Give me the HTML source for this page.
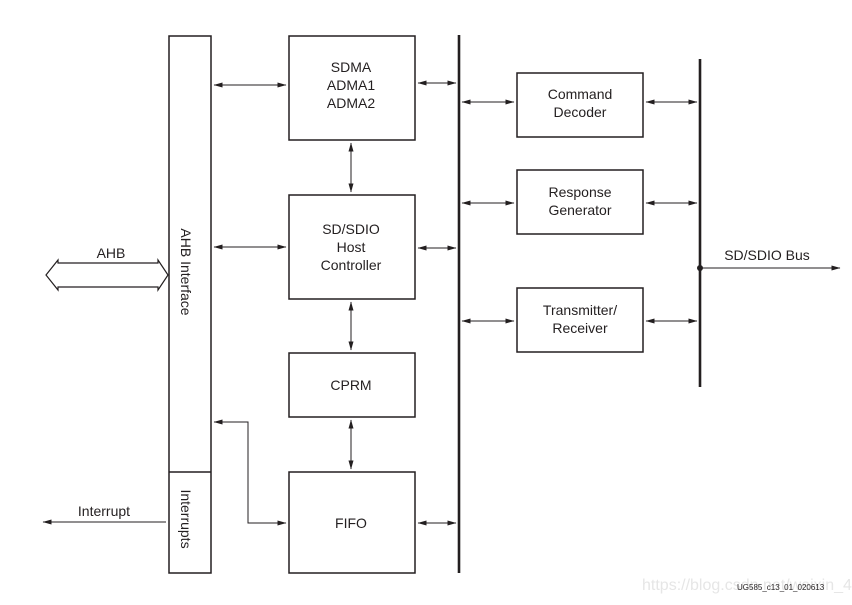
<!DOCTYPE html>
<html><head><meta charset="utf-8"><style>
html,body{margin:0;padding:0;background:#fff;}
svg{display:block;}
text{font-family:"Liberation Sans",Arial,sans-serif;fill:#231f20;}
</style></head><body>
<svg width="852" height="605" viewBox="0 0 852 605" xmlns="http://www.w3.org/2000/svg">
<defs>
<marker id="a" markerWidth="9" markerHeight="6" refX="8.5" refY="3" orient="auto-start-reverse" markerUnits="userSpaceOnUse">
<path d="M0,0.5 L9,3 L0,5.5 Z" fill="#231f20"/>
</marker>
</defs>
<g fill="none" stroke="#231f20" stroke-width="1.5">
<rect x="169" y="36" width="42" height="537"/>
<line x1="169" y1="472" x2="211" y2="472"/>
<rect x="289" y="36" width="126" height="104"/>
<rect x="289" y="195" width="126" height="104"/>
<rect x="289" y="353" width="126" height="64"/>
<rect x="289" y="472" width="126" height="101"/>
<rect x="517" y="73" width="126" height="64"/>
<rect x="517" y="170" width="126" height="64"/>
<rect x="517" y="288" width="126" height="64"/>
</g>
<line x1="459" y1="35" x2="459" y2="573" stroke="#231f20" stroke-width="2.6"/>
<line x1="700" y1="59" x2="700" y2="387" stroke="#231f20" stroke-width="2.6"/>
<circle cx="700" cy="268" r="3" fill="#231f20"/>
<g stroke="#231f20" stroke-width="1" fill="none" marker-start="url(#a)" marker-end="url(#a)">
<line x1="214" y1="85" x2="286" y2="85"/>
<line x1="214" y1="247" x2="286" y2="247"/>
<line x1="418" y1="83" x2="456" y2="83"/>
<line x1="418" y1="248" x2="456" y2="248"/>
<line x1="418" y1="523" x2="456" y2="523"/>
<line x1="462" y1="102" x2="514" y2="102"/>
<line x1="462" y1="203" x2="514" y2="203"/>
<line x1="462" y1="321" x2="514" y2="321"/>
<line x1="646" y1="102" x2="697" y2="102"/>
<line x1="646" y1="203" x2="697" y2="203"/>
<line x1="646" y1="321" x2="697" y2="321"/>
<line x1="351" y1="143" x2="351" y2="192"/>
<line x1="351" y1="302" x2="351" y2="350"/>
<line x1="351" y1="420" x2="351" y2="469"/>
<polyline points="214,422 248,422 248,523 286,523"/>
</g>
<g stroke="#231f20" stroke-width="1" fill="none">
<line x1="166" y1="522" x2="43" y2="522" marker-end="url(#a)"/>
<line x1="700" y1="268" x2="840" y2="268" marker-end="url(#a)"/>
<path d="M58,263 L158,263 L158,260 L168,275 L158,290 L158,287 L58,287 L58,290 L46,275 L58,260 Z" stroke-width="1.2"/>
</g>
<g font-size="14" text-anchor="middle">
<text x="351" y="72">SDMA</text>
<text x="351" y="90">ADMA1</text>
<text x="351" y="108">ADMA2</text>
<text x="351" y="234">SD/SDIO</text>
<text x="351" y="252">Host</text>
<text x="351" y="270">Controller</text>
<text x="351" y="390">CPRM</text>
<text x="351" y="528">FIFO</text>
<text x="580" y="99">Command</text>
<text x="580" y="117">Decoder</text>
<text x="580" y="197">Response</text>
<text x="580" y="215">Generator</text>
<text x="580" y="315">Transmitter/</text>
<text x="580" y="333">Receiver</text>
<text x="111" y="258">AHB</text>
<text x="104" y="516">Interrupt</text>
<text x="767" y="260">SD/SDIO Bus</text>
<text transform="translate(181,272) rotate(90)" >AHB Interface</text>
<text transform="translate(181,519) rotate(90)" >Interrupts</text>
</g>
<text x="642" y="590" font-size="16" fill="#e4e4e4" style="fill:#e6e6e6">https://blog.csdn.net/weixin_44105637</text>
<text x="737" y="590" font-size="8" style="fill:#231f20">UG585_c13_01_020613</text>
</svg>
</body></html>
